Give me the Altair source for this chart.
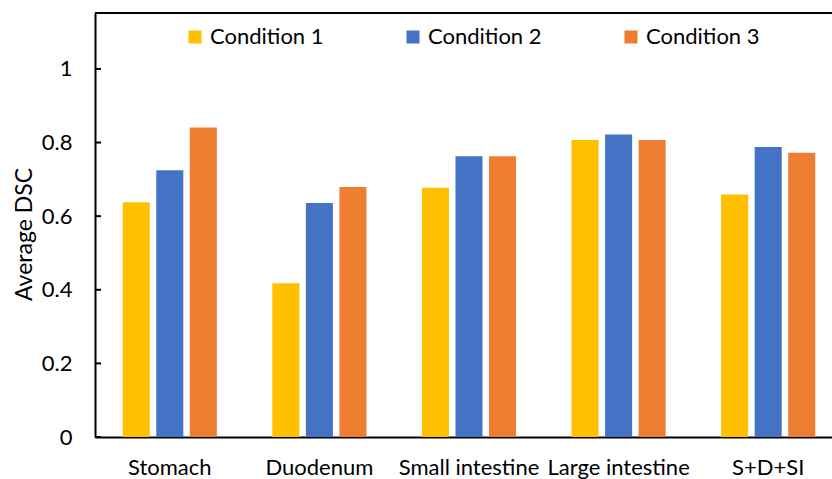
import altair as alt
import pandas as pd

categories = ["Stomach", "Duodenum", "Small intestine", "Large intestine", "S+D+SI"]
series_names = ["Condition 1", "Condition 2", "Condition 3"]
cond1 = [0.638, 0.418, 0.677, 0.807, 0.659]
cond2 = [0.725, 0.636, 0.763, 0.822, 0.788]
cond3 = [0.841, 0.679, 0.763, 0.807, 0.772]
colors = ["#FFC000", "#4472C4", "#ED7D31"]
y_ticks = [0, 0.2, 0.4, 0.6, 0.8, 1]

rows = []
for name, vals in zip(series_names, [cond1, cond2, cond3]):
    for c, v in zip(categories, vals):
        rows.append({"organ": c, "condition": name, "dsc": v})
df = pd.DataFrame(rows)

FONT = "Lato"
FS = 22
W = 737
H = 424
Y_DOMAIN = [0, 1.152]

y_axis = alt.Axis(
    values=y_ticks, format="~g", title="Average DSC", grid=False, ticks=False, tickSize=0,
    domain=True, domainColor="black", domainWidth=2, labelFontSize=FS, labelFont=FONT,
    labelColor="black", labelPadding=23, titleFontSize=23, titleFont=FONT,
    titleFontWeight="normal", titleColor="black", titleX=-71, titleY=221,
    titleAngle=270, titleAlign="center", titleBaseline="middle",
)
y_scale = alt.Scale(domain=Y_DOMAIN, nice=False)

bars = alt.Chart(df).mark_bar().encode(
    x=alt.X(
        "organ:N",
        sort=categories,
        scale=alt.Scale(range=[0, 748], paddingInner=0.371, paddingOuter=0.1855),
        axis=alt.Axis(
            title=None, labelAngle=0, labelFontSize=FS, labelFont=FONT, labelColor="black",
            labelPadding=20, ticks=False, tickSize=0, domain=True, domainColor="black",
            domainWidth=2, labelOverlap=False, labelBound=False, grid=False,
        ),
    ),
    xOffset=alt.XOffset("condition:N", sort=series_names,
                        scale=alt.Scale(paddingInner=0.194, paddingOuter=0)),
    y=alt.Y("dsc:Q", scale=y_scale, axis=y_axis),
    color=alt.Color(
        "condition:N",
        sort=series_names,
        scale=alt.Scale(domain=series_names, range=colors),
        legend=alt.Legend(
            title=None, orient="none", legendX=89, legendY=13, direction="horizontal",
            symbolType="square", symbolSize=169, symbolStrokeWidth=0, labelFontSize=FS,
            labelFont=FONT, labelColor="black", columnPadding=78, padding=0, labelOffset=4,
        ),
    ),
)

ticks = alt.Chart(pd.DataFrame({"tick": y_ticks})).mark_rule(color="black", strokeWidth=2).encode(
    y=alt.Y("tick:Q", scale=y_scale, axis=y_axis),
    x=alt.value(0),
    x2=alt.value(6),
)

top = alt.Chart(pd.DataFrame({"k": [0]})).mark_rule(color="black", strokeWidth=2).encode(
    y=alt.value(0), x=alt.value(0), x2=alt.value(W)
)

chart = alt.layer(bars, ticks, top).properties(
    width=W, height=H, autosize="none",
    padding={"left": 95, "top": 13, "right": 0, "bottom": 42},
).configure_view(stroke=None).configure(font=FONT)

chart.save("out.html", embed_options={"renderer": "svg", "actions": False})
